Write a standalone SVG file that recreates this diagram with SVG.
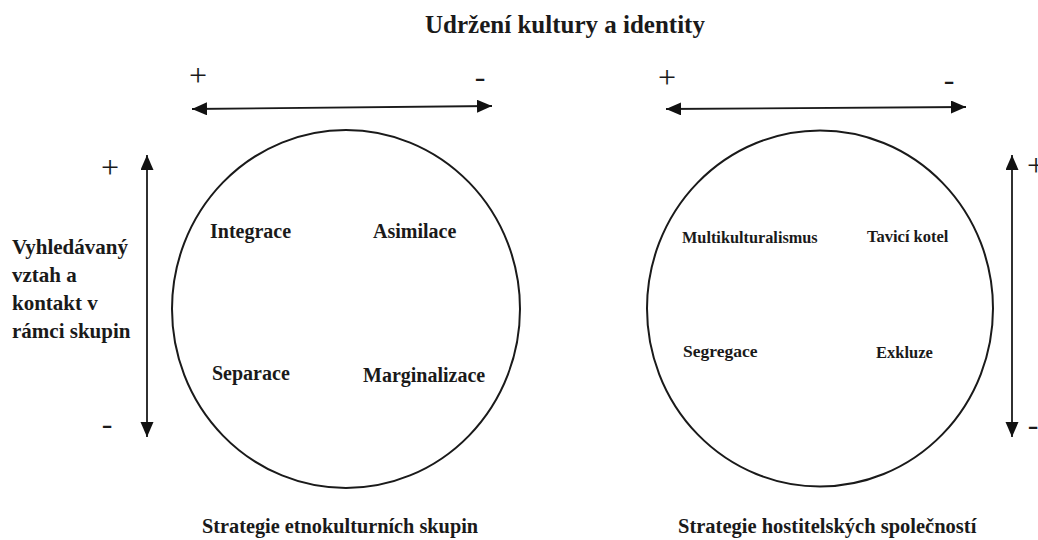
<svg xmlns="http://www.w3.org/2000/svg" width="1038" height="540" viewBox="0 0 1038 540">
<style>
.lbl{font-family:"Liberation Serif","Times New Roman",serif;font-weight:bold;fill:#1a1a1a}
.sign{font-family:"Liberation Serif","Times New Roman",serif;font-size:32px;fill:#1a1a1a;text-anchor:middle}
.ring{fill:none;stroke:#1a1a1a;stroke-width:2}
.axis{fill:none;stroke:#1a1a1a;stroke-width:1.8}
</style>
<defs>
<marker id="ah" markerUnits="userSpaceOnUse" markerWidth="16" markerHeight="14" refX="15" refY="6.5" orient="auto-start-reverse">
<path d="M0,0 L15,6.5 L0,13 z" fill="#111"/>
</marker>
</defs>
<rect width="1038" height="540" fill="#fff"/>
<text id="title" class="lbl" x="565" y="33" font-size="25" text-anchor="middle">Udržení kultury a identity</text>
<g id="connectors">
<line class="axis" x1="192" y1="109" x2="492" y2="106" marker-start="url(#ah)" marker-end="url(#ah)"/>
<line class="axis" x1="666" y1="109" x2="966" y2="107" marker-start="url(#ah)" marker-end="url(#ah)"/>
<line class="axis" x1="147" y1="155" x2="147" y2="437" marker-start="url(#ah)" marker-end="url(#ah)"/>
<line class="axis" x1="1012" y1="155" x2="1012" y2="437" marker-start="url(#ah)" marker-end="url(#ah)"/>
</g>
<g id="signs">
<text class="sign" x="198" y="86">+</text>
<text class="sign" x="480" y="87">-</text>
<text class="sign" x="667" y="88">+</text>
<text class="sign" x="949" y="90">-</text>
<text class="sign" x="110" y="178">+</text>
<text class="sign" x="107" y="434">-</text>
<text class="sign" x="1036" y="176" font-size="28">+</text>
<text class="sign" x="1033" y="435">-</text>
</g>
<g id="side-label">
<text class="lbl" font-size="21" x="12" y="254">Vyhledávaný</text>
<text class="lbl" font-size="21" x="12" y="282">vztah a</text>
<text class="lbl" font-size="21" x="12" y="310">kontakt v</text>
<text class="lbl" font-size="21" x="12" y="338">rámci skupin</text>
</g>
<g id="ethno">
<ellipse class="ring" cx="346" cy="309" rx="174" ry="179"/>
<text class="lbl" font-size="20" x="210" y="238">Integrace</text>
<text class="lbl" font-size="20" x="373" y="238">Asimilace</text>
<text class="lbl" font-size="20" x="212" y="380">Separace</text>
<text class="lbl" font-size="20" x="363" y="382">Marginalizace</text>
<text class="lbl" font-size="20.3" x="202" y="533">Strategie etnokulturních skupin</text>
</g>
<g id="host">
<ellipse class="ring" cx="820" cy="308.5" rx="173" ry="178"/>
<text class="lbl" font-size="16.3" x="682" y="243">Multikulturalismus</text>
<text class="lbl" font-size="16.5" x="867" y="242">Tavicí kotel</text>
<text class="lbl" font-size="17.5" x="683" y="357">Segregace</text>
<text class="lbl" font-size="16.5" x="876" y="358">Exkluze</text>
<text class="lbl" font-size="20.5" x="678" y="533">Strategie hostitelských společností</text>
</g>
</svg>
